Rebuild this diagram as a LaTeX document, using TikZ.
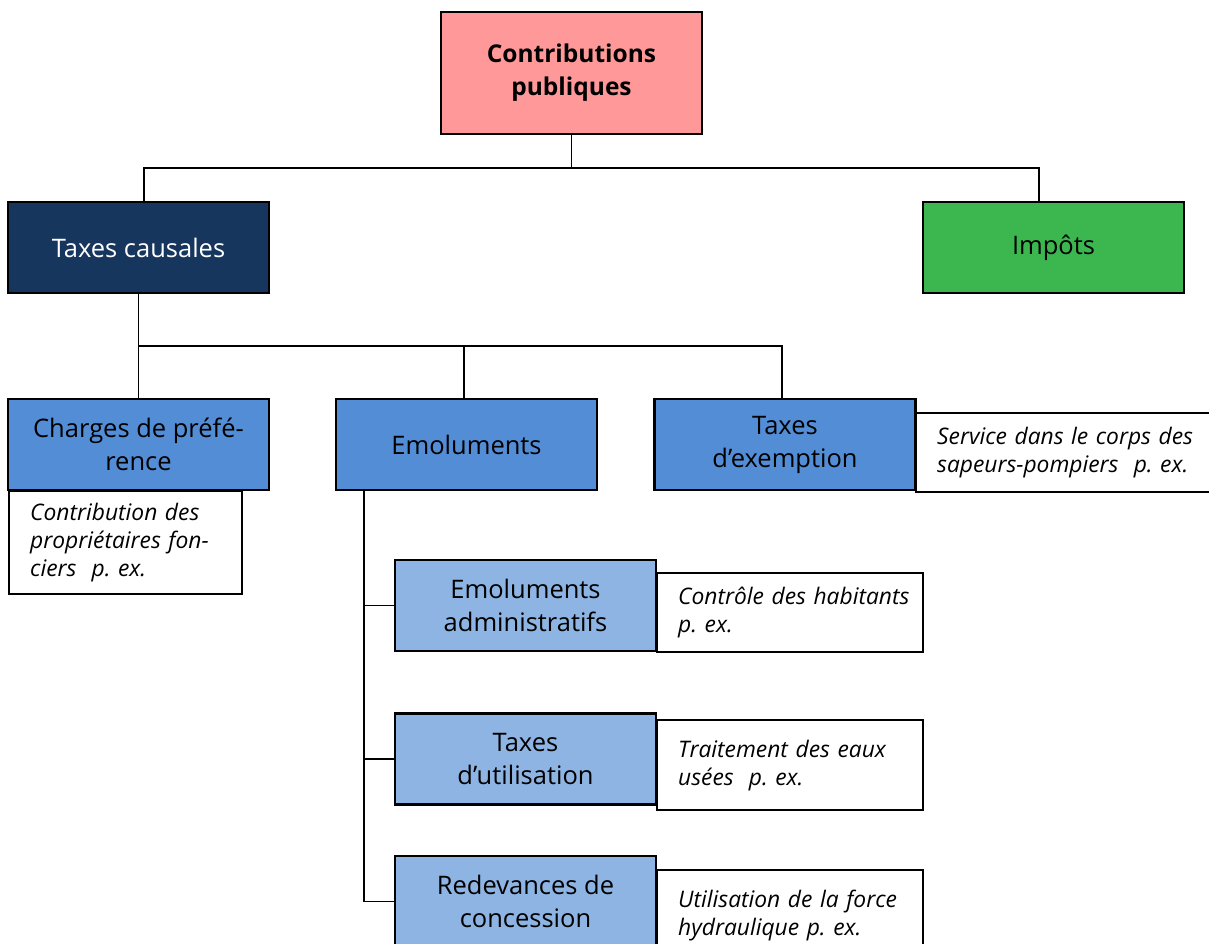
\documentclass[tikz,border=0pt]{standalone}
\usepackage{fontspec}
\setmainfont{Open Sans}
\frenchspacing
\definecolor{cpink}{HTML}{FF9999}
\definecolor{cnavy}{HTML}{17365D}
\definecolor{cgreen}{HTML}{3CB750}
\definecolor{cblue}{HTML}{538DD5}
\definecolor{clight}{HTML}{8DB4E2}
\begin{document}
\begin{tikzpicture}[x=1pt,y=-1pt,
  box/.style={draw=black, line width=2.8pt, inner sep=0pt, align=center,
    font=\fontsize{25.5}{33}\selectfont, minimum width=261pt, minimum height=91pt},
  note/.style={draw=black, line width=2.4pt, fill=white, inner xsep=21pt, inner ysep=0pt,
    align=left, font=\itshape\fontsize{22.8}{28}\selectfont, anchor=north west},
  conn/.style={draw=black, line width=1.7pt}]
\useasboundingbox (0,0) rectangle (1209,943);
\clip (0,0) rectangle (1209,943);
% top
\node[box, fill=cpink, minimum height=122pt, font=\bfseries\fontsize{24.5}{33}\selectfont] (contrib) at (571.5,73) {Contributions\\publiques};
\node[box, fill=cnavy, text=white] (causal) at (138.5,247.5) {Taxes causales};
\node[box, fill=cgreen] (impots) at (1053.5,247.5) {Impôts};
% level 2
\node[box, fill=cblue] (charges) at (138.5,444.5) {Charges de préfé-\\rence};
\node[box, fill=cblue] (emol) at (466.5,444.5) {Emoluments};
\node[box, fill=cblue] (exempt) at (785,444.5) {Taxes\\d’exemption};
% level 3
\node[box, fill=clight] (admin) at (525.5,605.5) {Emoluments\\administratifs};
\node[box, fill=clight] (util) at (525.5,759) {Taxes\\d’utilisation};
\node[box, fill=clight] (redev) at (525.5,901.5) {Redevances de\\concession};
% notes
\node[note, text width=191pt, minimum height=103pt] (ncharges) at (8,490) {Contribution des\\propriétaires fon-\\ciers\ \ p. ex.};
\node[note, text width=260pt, minimum height=79pt] (nexempt) at (915,412) {Service dans le corps des\\sapeurs-pompiers\ \ p. ex.};
\node[note, text width=224pt, minimum height=79pt] (nadmin) at (656,572) {\mbox{Contrôle des habitants}\\p. ex.};
\node[note, text width=224pt, minimum height=90pt] (nutil) at (656,719) {Traitement des eaux\\usées\ \ p. ex.};
\node[note, text width=224pt, minimum height=90pt] (nredev) at (656,869) {Utilisation de la force\\hydraulique p. ex.};
% redraw boxes on top of notes' borders
\node[box, fill=cblue] at (138.5,444.5) {Charges de préfé-\\rence};
\node[box, fill=cblue] at (785,444.5) {Taxes\\d’exemption};
\node[box, fill=clight] at (525.5,605.5) {Emoluments\\administratifs};
\node[box, fill=clight] at (525.5,759) {Taxes\\d’utilisation};
\node[box, fill=clight] at (525.5,901.5) {Redevances de\\concession};
% connectors
\coordinate (j1) at (571.5,168);
\coordinate (j2) at (138.5,346);
\coordinate (v) at (364,0);
\draw[conn] (contrib.south) -- (j1);
\draw[conn] ([xshift=5.5pt]causal.north) |- (j1) -| ([xshift=-14.5pt]impots.north);
\draw[conn] (causal.south) -- (charges.north);
\draw[conn] (j2) -| ([xshift=-2.5pt]emol.north);
\draw[conn] (j2) -| ([xshift=-3pt]exempt.north);
\draw[conn] (emol.south -| v) |- (redev.west);
\draw[conn] (admin.west -| v) -- (admin.west);
\draw[conn] (util.west -| v) -- (util.west);
\end{tikzpicture}
\end{document}
